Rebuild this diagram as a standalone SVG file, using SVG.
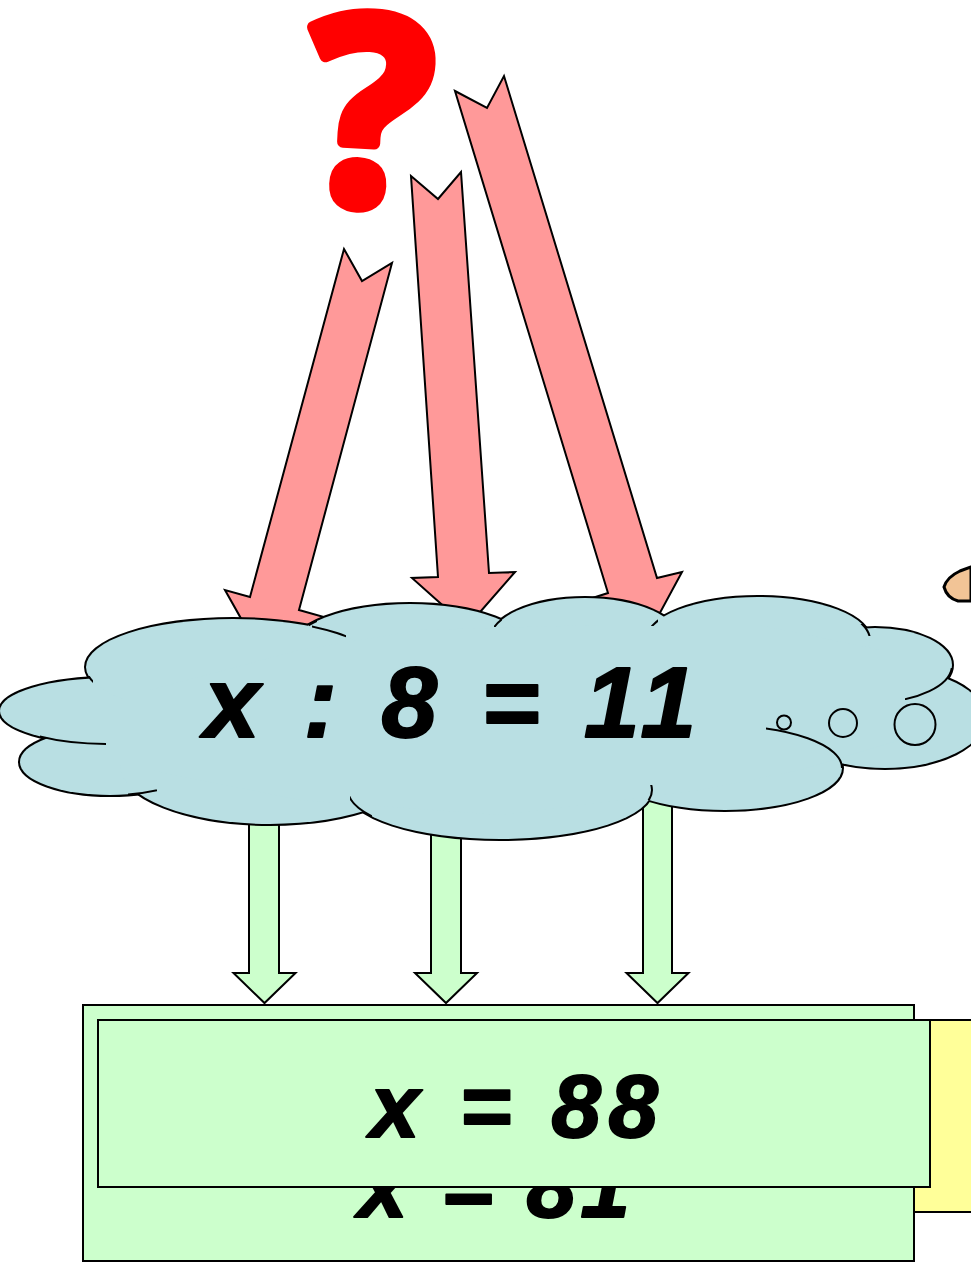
<svg xmlns="http://www.w3.org/2000/svg" width="971" height="1262" viewBox="0 0 971 1262">
<style>
.pink{fill:#FF9999;stroke:#000;stroke-width:2;stroke-linejoin:miter}
.garrow{fill:#CCFFCC;stroke:#000;stroke-width:2}
.lobe-s{fill:#B9DFE3;stroke:#000;stroke-width:4}
.lobe-f{fill:#B9DFE3;stroke:none}
.inner{fill:none;stroke:#000;stroke-width:2}
.bubble{fill:#B9DFE3;stroke:#000;stroke-width:2}
.math{font-family:"Liberation Sans","DejaVu Sans",sans-serif;font-weight:bold;font-style:italic;fill:#000;stroke:#000;stroke-width:2;stroke-linejoin:round}
.box{stroke:#000;stroke-width:2}
</style>
<defs>
<clipPath id="cA"><rect x="40" y="725" width="66" height="27"/></clipPath>
<clipPath id="cB"><rect x="128" y="782" width="29" height="18"/></clipPath>
<clipPath id="cF1"><rect x="312" y="620" width="34" height="20"/></clipPath>
<clipPath id="cF2"><rect x="84" y="676" width="9" height="10"/></clipPath>
<clipPath id="cD1"><rect x="350" y="796" width="22" height="22"/></clipPath>
<clipPath id="cD2"><rect x="642" y="785" width="11" height="15"/></clipPath>
<clipPath id="cE"><rect x="766" y="722" width="76" height="46"/></clipPath>
<clipPath id="cJ"><rect x="905" y="668" width="48" height="32"/></clipPath>
<clipPath id="cI1"><rect x="858" y="624" width="13" height="12"/></clipPath>
<clipPath id="cH"><rect x="494" y="614" width="8" height="13"/></clipPath>
<clipPath id="cI2"><rect x="650" y="612" width="8" height="14"/></clipPath>
<clipPath id="cG"><rect x="309" y="618" width="8" height="14"/></clipPath>
</defs>

<g id="question-mark">
<text x="370" y="204" text-anchor="middle" font-family="Noto Sans, DejaVu Sans, sans-serif" font-weight="bold" font-size="262" fill="#FF0000" stroke="#FF0000" stroke-width="12" stroke-linejoin="round" transform="rotate(3 370 110)">?</text>
</g>

<g id="hand">
<path d="M971,567 L960,571 Q947,577 944,587 Q947,598 958,601 L971,601 Z" fill="#F2C496" stroke="#000" stroke-width="3"/>
</g>

<g id="connectors">
<polygon class="pink" points="344,249 362,281 392,263 299,610 324,617 261,654 225,590 250,597"/>
<polygon class="pink" points="411,176 438,199 461,172 489,573 515,572 467,627 412,578 438,577"/>
<polygon class="pink" points="455,91 487,108 504,76 657,578 682,572 648,635 583,601 608,593"/>
<polygon class="garrow" points="249,780 279,780 279,973 295.5,973 264.5,1003 233.5,973 249,973"/>
<polygon class="garrow" points="431,790 461,790 461,973 477,973 446,1003 415,973 431,973"/>
<polygon class="garrow" points="643,780 672,780 672,973 688.5,973 657.5,1003 626.5,973 643,973"/>
</g>

<g id="cloud">
<g>
<ellipse class="lobe-s" cx="110" cy="711" rx="110" ry="33"/>
<ellipse class="lobe-s" cx="110" cy="762" rx="90" ry="33"/>
<ellipse class="lobe-s" cx="270" cy="765" rx="150" ry="59"/>
<ellipse class="lobe-s" cx="500" cy="790" rx="152" ry="49"/>
<ellipse class="lobe-s" cx="725" cy="768" rx="117" ry="42"/>
<ellipse class="lobe-s" cx="885" cy="718" rx="100" ry="50"/>
<ellipse class="lobe-s" cx="875" cy="665" rx="77" ry="37"/>
<ellipse class="lobe-s" cx="758" cy="640" rx="112" ry="43"/>
<ellipse class="lobe-s" cx="585" cy="640" rx="95" ry="42"/>
<ellipse class="lobe-s" cx="410" cy="650" rx="120" ry="46"/>
<ellipse class="lobe-s" cx="233" cy="667" rx="147" ry="48"/>
</g>
<g>
<ellipse class="lobe-f" cx="110" cy="711" rx="110" ry="33"/>
<ellipse class="lobe-f" cx="110" cy="762" rx="90" ry="33"/>
<ellipse class="lobe-f" cx="270" cy="765" rx="150" ry="59"/>
<ellipse class="lobe-f" cx="500" cy="790" rx="152" ry="49"/>
<ellipse class="lobe-f" cx="725" cy="768" rx="117" ry="42"/>
<ellipse class="lobe-f" cx="885" cy="718" rx="100" ry="50"/>
<ellipse class="lobe-f" cx="875" cy="665" rx="77" ry="37"/>
<ellipse class="lobe-f" cx="758" cy="640" rx="112" ry="43"/>
<ellipse class="lobe-f" cx="585" cy="640" rx="95" ry="42"/>
<ellipse class="lobe-f" cx="410" cy="650" rx="120" ry="46"/>
<ellipse class="lobe-f" cx="233" cy="667" rx="147" ry="48"/>
<polygon class="lobe-f" points="60,720 150,690 300,650 420,630 600,625 760,625 880,650 930,700 900,740 800,770 700,790 500,815 300,800 150,770 60,740"/>
</g>
<g>
<ellipse class="inner" clip-path="url(#cA)" cx="110" cy="711" rx="110" ry="33"/>
<ellipse class="inner" clip-path="url(#cB)" cx="110" cy="762" rx="90" ry="33"/>
<ellipse class="inner" clip-path="url(#cF1)" cx="233" cy="667" rx="147" ry="48"/>
<ellipse class="inner" clip-path="url(#cF2)" cx="233" cy="667" rx="147" ry="48"/>
<ellipse class="inner" clip-path="url(#cD1)" cx="500" cy="790" rx="152" ry="49"/>
<ellipse class="inner" clip-path="url(#cD2)" cx="500" cy="790" rx="152" ry="49"/>
<ellipse class="inner" clip-path="url(#cE)" cx="725" cy="768" rx="117" ry="42"/>
<ellipse class="inner" clip-path="url(#cJ)" cx="875" cy="665" rx="77" ry="37"/>
<ellipse class="inner" clip-path="url(#cI1)" cx="758" cy="640" rx="112" ry="43"/>
<ellipse class="inner" clip-path="url(#cI2)" cx="758" cy="640" rx="112" ry="43"/>
<ellipse class="inner" clip-path="url(#cH)" cx="585" cy="640" rx="95" ry="42"/>
<ellipse class="inner" clip-path="url(#cG)" cx="410" cy="650" rx="120" ry="46"/>
</g>
<circle class="bubble" cx="784" cy="722.5" r="7"/>
<circle class="bubble" cx="843" cy="723" r="14"/>
<circle class="bubble" cx="915" cy="724.5" r="20.5"/>
<text class="math" x="204" y="737" font-size="100" textLength="492" lengthAdjust="spacing">x : 8 = 11</text>
</g>

<g id="answer-boxes">
<rect class="box" x="300" y="1020" width="700" height="192" fill="#FFFF99"/>
<rect class="box" x="83" y="1005" width="831" height="256" fill="#CCFFCC"/>
<text class="math" x="358" y="1217" font-size="89" textLength="272" lengthAdjust="spacing">x = 81</text>
<rect class="box" x="98" y="1020" width="832" height="167" fill="#CCFFCC"/>
<text class="math" x="370" y="1137" font-size="89" textLength="288" lengthAdjust="spacing">x = 88</text>
</g>
</svg>
